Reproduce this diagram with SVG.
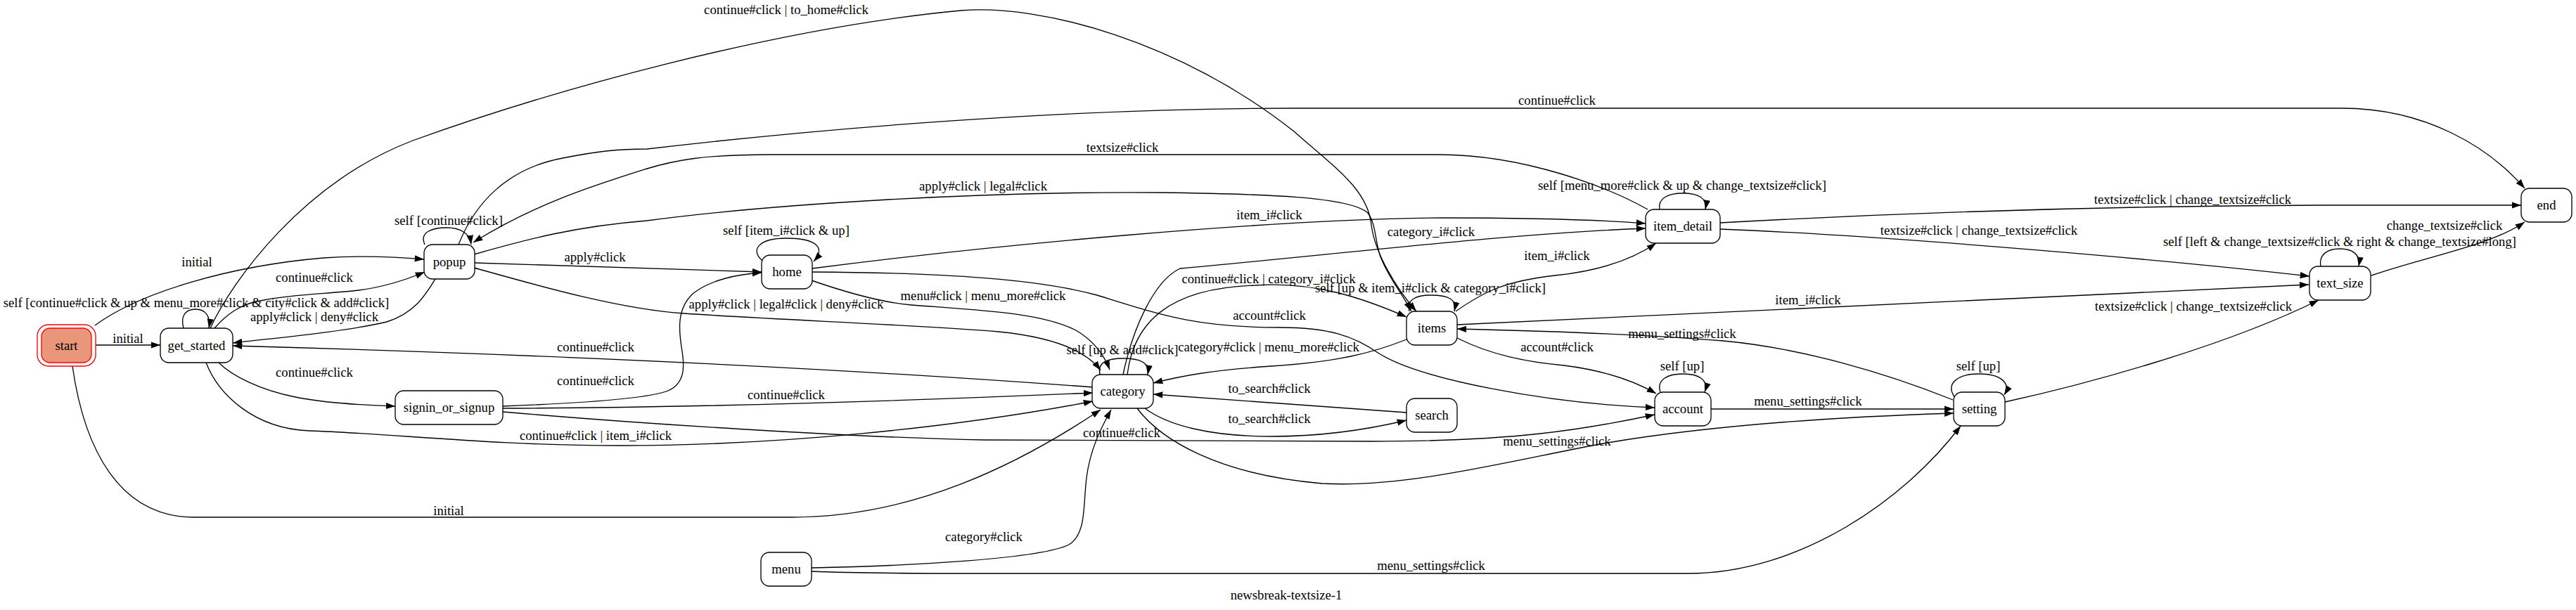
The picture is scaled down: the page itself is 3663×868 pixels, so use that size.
<svg xmlns="http://www.w3.org/2000/svg" width="3663" height="868" viewBox="0 0 3663 868">
<defs>
<marker id="ah" viewBox="0 0 14 10" refX="13.3" refY="5" markerWidth="14" markerHeight="10" markerUnits="userSpaceOnUse" orient="auto"><path d="M0,0.33 L13.3,5 L0,9.67 z" fill="#000"/></marker>
<style>
text{font-family:"Liberation Serif","Times New Roman",serif;font-size:18.67px;fill:#000;text-anchor:middle}
.n rect{fill:#fff;stroke:#000;stroke-width:1.33}
.e path{fill:none;stroke:#000;stroke-width:1.33;marker-end:url(#ah)}
</style>
</defs>
<rect x="0" y="0" width="3663" height="868" fill="#fff"/>
<g id="edges" class="e">
<path d="M136,491 L228,491"/>
<path d="M135,463 C200,415 330,378 460,367 C520,363 570,366 603,369"/>
<path d="M103,521 C120,640 170,736 276,736 L1125,736 C1300,736 1450,660 1565,583"/>
<path d="M261,467 C256,448 265,440 278,440 C292,440 300,450 297,467"/>
<path d="M305,467 C320,450 340,432 375,427 C420,418 470,418 510,413 C550,408 580,397 604,387"/>
<path d="M619,397 C605,420 590,445 550,458 C490,472 400,480 331,488"/>
<path d="M311,516 C330,535 370,555 420,565 C470,575 530,577 562,578"/>
<path d="M293,516 C310,560 360,610 440,613 C560,617 700,634 881,634 C1100,634 1350,610 1554,571"/>
<path d="M299,467 C330,400 430,260 587,200 C780,130 1100,40 1366,15 C1480,5 1680,60 1840,187 C1900,240 1945,270 1950,320 C1955,360 1985,410 2014,443"/>
<path d="M604,348 C596,330 615,324 635,324 C655,324 668,332 670,348"/>
<path d="M652,348 C675,290 720,240 800,225 C850,215 880,212 920,212 C1150,185 1500,154 1840,154 L3330,154 C3450,154 3540,210 3590,268"/>
<path d="M675,374 L1083,387"/>
<path d="M2343,298 C2290,268 2170,220 2045,220 L1096,220 C1000,220 960,228 920,240 C850,262 760,290 673,345"/>
<path d="M674,362 C750,340 820,322 920,314 C1100,290 1400,272 1650,274 C1800,276 1920,280 1945,303 C1958,320 1955,350 1965,370 C1975,395 1995,420 2007,443"/>
<path d="M674,381 C760,405 880,440 973,446 C1100,455 1300,462 1420,472 C1500,480 1545,500 1565,527"/>
<path d="M1085,372 C1065,355 1080,339 1118,339 C1160,339 1175,352 1157,372"/>
<path d="M1155,382 C1400,350 1800,312 2050,310 C2200,310 2290,314 2340,318"/>
<path d="M1154,399 C1200,415 1250,430 1296,434 C1400,442 1480,445 1530,470 C1555,485 1570,505 1578,526"/>
<path d="M1155,387 C1350,388 1480,398 1560,420 C1650,448 1700,466 1820,466 C1890,466 1925,478 1961,503 C2020,540 2200,574 2353,580"/>
<path d="M1564,533 C1560,515 1575,510 1597,510 C1620,510 1635,515 1632,533"/>
<path d="M1597,533 C1610,470 1640,400 1678,382 C1900,362 2150,332 2340,325"/>
<path d="M1603,533 C1612,460 1660,410 1785,406 C1870,400 1940,425 2000,451"/>
<path d="M2004,443 C2000,425 2015,420 2035,420 C2058,420 2072,425 2068,443"/>
<path d="M2070,443 C2110,415 2140,400 2211,392 C2270,386 2320,370 2355,346"/>
<path d="M2000,483 C1950,503 1900,515 1808,521 C1720,527 1680,535 1640,545"/>
<path d="M2000,587 L1640,561"/>
<path d="M1628,581 C1660,605 1720,621 1808,621 C1880,621 1950,610 2000,598"/>
<path d="M715,586 C900,602 1200,622 1400,626 L1950,628 C2150,628 2250,612 2353,590"/>
<path d="M715,578 C820,574 920,568 950,556 C975,545 973,520 970,500 C965,470 962,440 985,418 C1010,398 1050,390 1083,388"/>
<path d="M715,581 C1000,580 1300,570 1554,559"/>
<path d="M1554,551 C1300,532 900,508 331,492"/>
<path d="M1154,808 C1300,805 1480,795 1520,775 C1545,760 1540,720 1545,680 C1550,640 1565,610 1580,583"/>
<path d="M1154,813 C1200,815 1300,816 1400,816 L2400,816 C2560,816 2710,710 2788,606"/>
<path d="M1617,581 C1650,625 1730,675 1880,688 C2000,695 2150,655 2280,631 C2450,602 2650,592 2778,588"/>
<path d="M2433,582 L2778,582"/>
<path d="M2777,569 C2680,530 2560,495 2450,485 C2300,473 2150,470 2072,468"/>
<path d="M2072,481 C2120,505 2170,515 2224,520 C2280,527 2320,540 2355,560"/>
<path d="M2361,558 C2355,540 2372,532 2393,532 C2415,532 2430,540 2424,558"/>
<path d="M2780,566 C2765,545 2785,532 2814,532 C2845,532 2860,545 2850,562"/>
<path d="M2851,572 C2960,548 3160,495 3297,427"/>
<path d="M2360,298 C2357,282 2372,275 2393,275 C2415,275 2428,282 2425,298"/>
<path d="M2446,317 C2700,303 3000,293 3300,292 L3585,292"/>
<path d="M2446,326 C2700,336 3100,372 3284,393"/>
<path d="M2072,462 L3283,405"/>
<path d="M3300,379 C3297,362 3310,354 3327,354 C3345,354 3357,362 3354,379"/>
<path d="M3372,392 C3450,365 3540,350 3590,316"/>
</g>
<g id="edge-labels">
<text x="182" y="488">initial</text>
<text x="280" y="379">initial</text>
<text x="638" y="733">initial</text>
<text x="279" y="437">self [continue#click &amp; up &amp; menu_more#click &amp; city#click &amp; add#click]</text>
<text x="447" y="401">continue#click</text>
<text x="447" y="457">apply#click | deny#click</text>
<text x="447" y="536">continue#click</text>
<text x="847" y="626">continue#click | item_i#click</text>
<text x="1118" y="20">continue#click | to_home#click</text>
<text x="638" y="320">self [continue#click]</text>
<text x="2214" y="149">continue#click</text>
<text x="1596" y="216">textsize#click</text>
<text x="1398" y="271">apply#click | legal#click</text>
<text x="1118" y="439">apply#click | legal#click | deny#click</text>
<text x="846" y="372">apply#click</text>
<text x="1118" y="334">self [item_i#click &amp; up]</text>
<text x="1805" y="312">item_i#click</text>
<text x="1398" y="427">menu#click | menu_more#click</text>
<text x="1805" y="455">account#click</text>
<text x="1596" y="504">self [up &amp; add#click]</text>
<text x="2035" y="336">category_i#click</text>
<text x="1804" y="403">continue#click | category_i#click</text>
<text x="2034" y="416">self [up &amp; item_i#click &amp; category_i#click]</text>
<text x="2214" y="370">item_i#click</text>
<text x="1804" y="500">category#click | menu_more#click</text>
<text x="1805" y="559">to_search#click</text>
<text x="1805" y="602">to_search#click</text>
<text x="1595" y="622">continue#click</text>
<text x="847" y="548">continue#click</text>
<text x="1118" y="568">continue#click</text>
<text x="847" y="500">continue#click</text>
<text x="1399" y="770">category#click</text>
<text x="2035" y="811">menu_settings#click</text>
<text x="2214" y="634">menu_settings#click</text>
<text x="2571" y="577">menu_settings#click</text>
<text x="2392" y="481">menu_settings#click</text>
<text x="2214" y="500">account#click</text>
<text x="2392" y="527">self [up]</text>
<text x="2813" y="527">self [up]</text>
<text x="3119" y="442">textsize#click | change_textsize#click</text>
<text x="2392" y="270">self [menu_more#click &amp; up &amp; change_textsize#click]</text>
<text x="3118" y="290">textsize#click | change_textsize#click</text>
<text x="2814" y="334">textsize#click | change_textsize#click</text>
<text x="2571" y="433">item_i#click</text>
<text x="3327" y="350">self [left &amp; change_textsize#click &amp; right &amp; change_textsize#long]</text>
<text x="3476" y="327">change_textsize#click</text>
</g>
<g id="start" class="n">
<rect x="53" y="462" width="83" height="59" rx="16" style="fill:none;stroke:#ff0000"/>
<rect x="59" y="467" width="71" height="49" rx="12" style="fill:#e9967a;stroke:#ff0000"/>
<text x="94.5" y="497.5">start</text>
</g>
<g id="get_started" class="n"><rect x="228" y="467" width="103" height="49" rx="12"/><text x="279.5" y="497.5">get_started</text></g>
<g id="popup" class="n"><rect x="603" y="348" width="72" height="49" rx="12"/><text x="639" y="378.5">popup</text></g>
<g id="signin_or_signup" class="n"><rect x="562" y="556" width="153" height="48" rx="12"/><text x="638.5" y="586">signin_or_signup</text></g>
<g id="home" class="n"><rect x="1083" y="363" width="72" height="48" rx="12"/><text x="1119" y="393">home</text></g>
<g id="menu" class="n"><rect x="1082" y="786" width="72" height="48" rx="12"/><text x="1118" y="816">menu</text></g>
<g id="category" class="n"><rect x="1553" y="533" width="87" height="48" rx="12"/><text x="1596.5" y="563">category</text></g>
<g id="items" class="n"><rect x="2000" y="443" width="72" height="48" rx="12"/><text x="2036" y="473">items</text></g>
<g id="search" class="n"><rect x="2000" y="567" width="72" height="48" rx="12"/><text x="2036" y="597">search</text></g>
<g id="item_detail" class="n"><rect x="2340" y="298" width="106" height="48" rx="12"/><text x="2393" y="328">item_detail</text></g>
<g id="account" class="n"><rect x="2353" y="558" width="80" height="48" rx="12"/><text x="2393" y="588">account</text></g>
<g id="setting" class="n"><rect x="2778" y="558" width="73" height="48" rx="12"/><text x="2814.5" y="588">setting</text></g>
<g id="text_size" class="n"><rect x="3284" y="379" width="87" height="48" rx="12"/><text x="3327.5" y="409">text_size</text></g>
<g id="end" class="n"><rect x="3585" y="268" width="72" height="48" rx="12"/><text x="3621" y="298">end</text></g>
<text x="1829" y="853">newsbreak-textsize-1</text>
</svg>
